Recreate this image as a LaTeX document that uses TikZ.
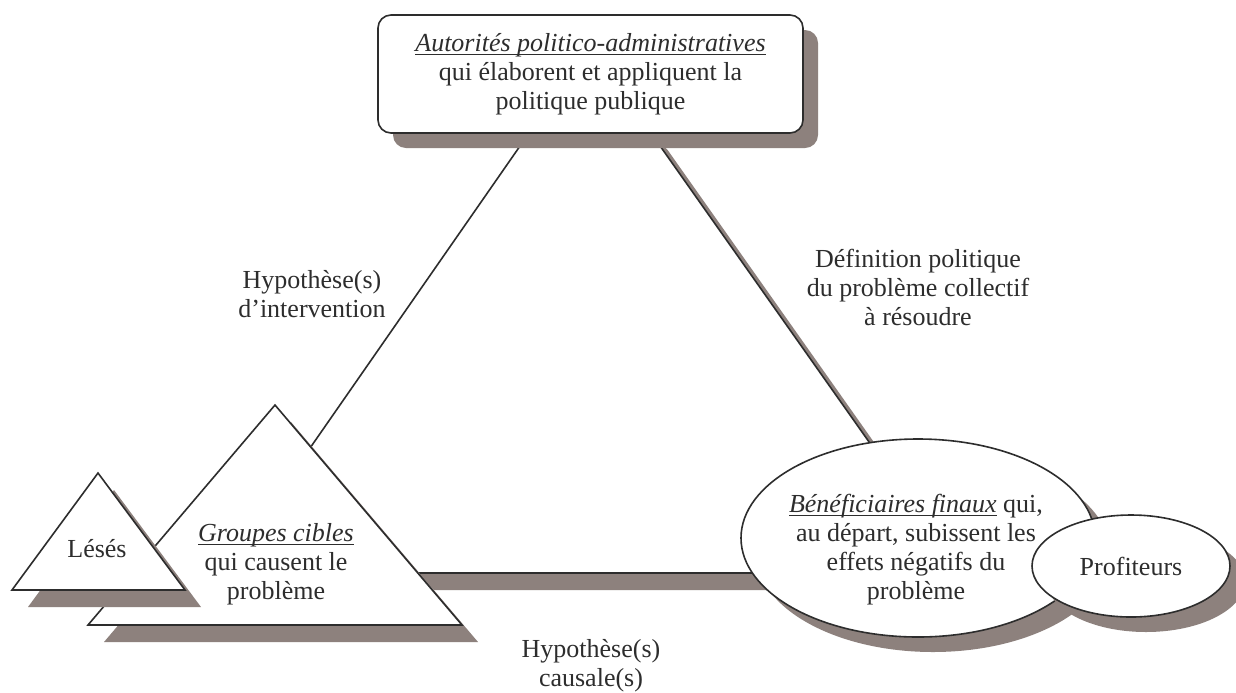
\documentclass[tikz,border=0pt]{standalone}
\usepackage{fontspec}
\setmainfont{Liberation Serif}
\usetikzlibrary{calc,shapes.geometric,shadows}
\definecolor{ink}{RGB}{45,45,45}
\definecolor{shadowgrey}{RGB}{141,129,125}
\pgfdeclarelayer{paper}
\pgfdeclarelayer{bg}
\pgfsetlayers{paper,bg,main}
% italic, underlined title at a fixed distance under the baseline
\newcommand{\ulit}[1]{\underline{\smash{\textit{#1}}}\vphantom{\textit{#1}}}

\begin{document}
\begin{tikzpicture}[x=0.5pt,y=-0.5pt,
  every node/.style={text=ink, font=\fontsize{13pt}{14.5pt}\selectfont},
  outline/.style={draw=ink, line width=0.8pt, fill=white},
  boxshadow/.style={drop shadow={shadow xshift=7.5pt, shadow yshift=-7.5pt, fill=shadowgrey, opacity=1}},
  ovalshadow/.style={drop shadow={shadow xshift=7.5pt, shadow yshift=-7.5pt, fill=shadowgrey, opacity=1}},
  trishadow/.style={preaction={draw=none, fill=shadowgrey, transform canvas={shift={(8pt,-8.5pt)}}}},
  link/.style={draw=ink, line width=0.8pt},
  label/.style={align=center, inner sep=0pt}]

\begin{pgfonlayer}{paper}
  \fill[white] (0,0) rectangle (1236,692);
\end{pgfonlayer}
\useasboundingbox (0,0) rectangle (1236,692);

% authorities
\node[outline, boxshadow, rounded corners=6.5pt, minimum width=212.5pt,
      minimum height=59pt, align=center, inner sep=0pt] (auth) at (590.5,74)
  {\ulit{Autorités politico-administratives}\\ qui élaborent et appliquent la\\ politique publique};

% target groups
\coordinate (gTop) at (275,405);
\coordinate (gLeft) at (88,625);
\coordinate (gRight) at (462,625);
\path[outline, trishadow] (gTop) -- (gRight) -- (gLeft) -- cycle;
\node[label] (groupesTxt) at (276,564)
  {\ulit{Groupes cibles}\\ qui causent le\\ problème};

% injured third parties
\coordinate (lTop) at (98,473);
\coordinate (lLeft) at (12,590);
\coordinate (lRight) at (185,590);
\path[outline, trishadow] (lTop) -- (lRight) -- (lLeft) -- cycle;
\node[label] (lesesTxt) at (97,549) {Lésés};

% final beneficiaries and profiteers
\node[outline, ovalshadow, ellipse, minimum width=177pt, minimum height=99pt,
      inner sep=0pt] (benef) at (918,538) {};
\node[label] (benefTxt) at (916,550)
  {\ulit{Bénéficiaires finaux} qui,\\ au départ, subissent les\\ effets négatifs du\\ problème};
\node[outline, ovalshadow, ellipse, minimum width=99pt, minimum height=51pt,
      inner sep=0pt] (prof) at (1131,566) {Profiteurs};

% side labels
\node[label] (hypInt) at (312,294) {Hypothèse(s)\\ d’intervention};
\node[label] (defPol) at (918,287) {Définition politique\\ du problème collectif\\ à résoudre};
\node[label] (hypCaus) at (591,666) {Hypothèse(s)\\ causale(s)};

% connectors, behind the shapes
\begin{pgfonlayer}{bg}
  \coordinate (aL) at ($(auth.south)+(-62,0)$);
  \coordinate (aR) at ($(auth.south)+(61,0)$);
  \coordinate (gE) at ($(gTop)!0.191!(gRight)$);
  \coordinate (gB) at ($(gTop)!0.7636!(gRight)$);
  \coordinate (bB) at (benef.center |- gB);
  \coordinate (bE) at (benef.117);
  \fill[shadowgrey] (aR) -- (bE) -- ($(bE)+(16,16)$) -- ($(aR)+(16,16)$) -- cycle;
  \fill[shadowgrey] (gB) -- (bB) -- ($(bB)+(16,17)$) -- ($(gB)+(16,17)$) -- cycle;
  \draw[link] (aL) -- (gE);
  \draw[link] (aR) -- (bE);
  \draw[link] (gB) -- (bB);
\end{pgfonlayer}
\end{tikzpicture}
\end{document}
